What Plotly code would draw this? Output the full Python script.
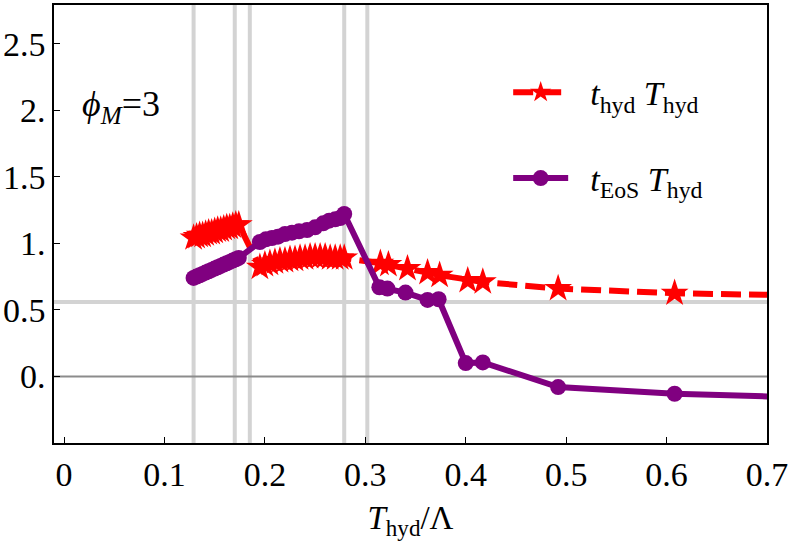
import plotly.graph_objects as go

# ---- data ----
t_hyd_x = [0.129, 0.132, 0.135, 0.138, 0.141, 0.144, 0.147, 0.150, 0.153, 0.156,
           0.159, 0.162, 0.165, 0.168, 0.171, 0.174,
           0.195, 0.200, 0.205, 0.210, 0.215, 0.220, 0.225, 0.230, 0.235, 0.240,
           0.245, 0.250, 0.255, 0.260, 0.265, 0.270, 0.275, 0.279,
           0.315, 0.323, 0.342, 0.362, 0.374, 0.402, 0.417, 0.492, 0.608, 0.80]
t_hyd_y = [1.04, 1.05, 1.06, 1.06, 1.07, 1.08, 1.08, 1.09, 1.10, 1.10,
           1.11, 1.12, 1.12, 1.13, 1.14, 1.14,
           0.82, 0.84, 0.85, 0.86, 0.87, 0.87, 0.88, 0.88, 0.89, 0.89,
           0.90, 0.90, 0.90, 0.90, 0.89, 0.89, 0.89, 0.89,
           0.85, 0.84, 0.81, 0.78, 0.76, 0.72, 0.71, 0.66, 0.625, 0.60]

t_eos_x = [0.129, 0.132, 0.135, 0.138, 0.141, 0.144, 0.147, 0.150, 0.153, 0.156,
           0.159, 0.162, 0.165, 0.168, 0.171, 0.174,
           0.195, 0.201, 0.207, 0.213, 0.220, 0.227, 0.234, 0.242, 0.250, 0.258,
           0.264, 0.270, 0.275, 0.279,
           0.314, 0.322, 0.340, 0.362, 0.373, 0.400, 0.417, 0.492, 0.608, 0.80]
t_eos_y = [0.74, 0.75, 0.76, 0.77, 0.78, 0.79, 0.80, 0.81, 0.82, 0.83,
           0.84, 0.85, 0.86, 0.87, 0.88, 0.89,
           1.01, 1.03, 1.04, 1.05, 1.07, 1.08, 1.09, 1.10, 1.12, 1.15,
           1.17, 1.18, 1.19, 1.22,
           0.67, 0.66, 0.63, 0.575, 0.58, 0.10, 0.105, -0.08, -0.13, -0.172]

vlines_x = [0.129, 0.170, 0.185, 0.279, 0.302]
hline_y = 0.56

x_ticks = [0, 0.1, 0.2, 0.3, 0.4, 0.5, 0.6, 0.7]
x_ticktext = ["0", "0.1", "0.2", "0.3", "0.4", "0.5", "0.6", "0.7"]
y_ticks = [0, 0.5, 1, 1.5, 2, 2.5]
y_ticktext = ["0.", "0.5", "1.", "1.5", "2.", "2.5"]

SERIF = "Liberation Serif, Times New Roman, serif"

fig = go.Figure()

for xv in vlines_x:
    fig.add_shape(type="line", x0=xv, x1=xv, y0=0, y1=1, xref="x", yref="paper",
                  line=dict(color="#d3d3d3", width=4), layer="below")
fig.add_shape(type="line", x0=0, x1=1, y0=hline_y, y1=hline_y, xref="paper", yref="y",
              line=dict(color="#d3d3d3", width=4), layer="below")
fig.add_shape(type="line", x0=0, x1=1, y0=0, y1=0, xref="paper", yref="y",
              line=dict(color="#8c8c8c", width=2), layer="below")

fig.add_trace(go.Scatter(
    x=t_hyd_x, y=t_hyd_y, mode="lines+markers",
    name="&nbsp;&nbsp;<i>t</i><sub>hyd</sub>&nbsp;<i>T</i><sub>hyd</sub>",
    line=dict(color="#ff0000", width=6, dash="20px,8px"),
    marker=dict(symbol="star", size=21, color="#ff0000"),
    showlegend=True,
))
fig.add_trace(go.Scatter(
    x=t_eos_x, y=t_eos_y, mode="lines+markers",
    name="&nbsp;&nbsp;<i>t</i><sub>EoS</sub>&nbsp;<i>T</i><sub>hyd</sub>",
    line=dict(color="#800080", width=6),
    marker=dict(symbol="circle", size=16, color="#800080"),
    legend="legend2", showlegend=True,
))

fig.add_annotation(
    x=0.016, y=2.03, xref="x", yref="y", xanchor="left", yanchor="middle",
    text="<i>ϕ</i><sub><i>M</i></sub>=3", showarrow=False,
    font=dict(family=SERIF, size=36, color="black"),
)

fig.update_layout(
    width=792, height=546,
    margin=dict(l=52, r=25, t=3, b=103),
    plot_bgcolor="white", paper_bgcolor="white",
    showlegend=True,
    font=dict(family=SERIF, size=34, color="black"),
    legend=dict(x=0.637, y=0.80, xanchor="left", yanchor="middle",
                bgcolor="rgba(0,0,0,0)", font=dict(family=SERIF, size=34),
                itemwidth=55),
    legend2=dict(x=0.637, y=0.604, xanchor="left", yanchor="middle",
                 bgcolor="rgba(0,0,0,0)", font=dict(family=SERIF, size=34),
                 itemwidth=55),
    xaxis=dict(
        range=[-0.01, 0.7], showgrid=False, zeroline=False,
        showline=True, linecolor="black", linewidth=1.5, mirror=True,
        ticks="inside", ticklen=6, tickwidth=1.2, tickcolor="black",
        tickvals=x_ticks, ticktext=x_ticktext, tickfont=dict(size=34),
        title=dict(text="<i>T</i><sub>hyd</sub>/Λ", font=dict(size=33), standoff=14),
    ),
    yaxis=dict(
        range=[-0.5, 2.79], showgrid=False, zeroline=False,
        showline=True, linecolor="black", linewidth=1.5, mirror=True,
        ticks="inside", ticklen=6, tickwidth=1.2, tickcolor="black",
        tickvals=y_ticks, ticktext=y_ticktext, tickfont=dict(size=34),
    ),
)

fig.write_html("out.html")
